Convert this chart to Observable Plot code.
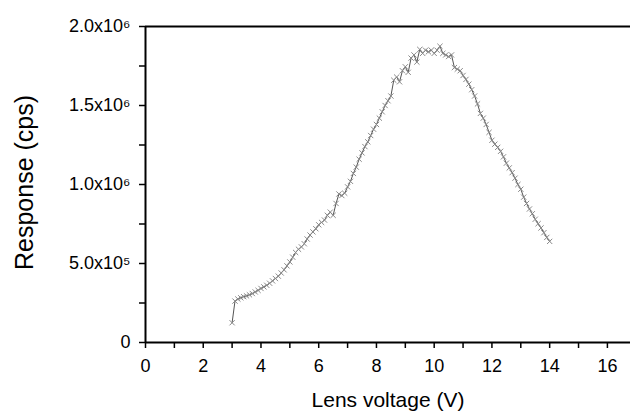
<!DOCTYPE html>
<html>
<head>
<meta charset="utf-8">
<script src="https://cdn.jsdelivr.net/npm/d3@7"></script>
<script src="https://cdn.jsdelivr.net/npm/@observablehq/plot@0.6"></script>
<style>
  html, body { margin: 0; padding: 0; background: #fff; }
</style>
</head>
<body>
<div id="chart"></div>
<script>
const voltages = [
  3.0,3.1,3.2,3.3,3.4,3.5,3.6,3.7,3.8,3.9,
  4.0,4.1,4.2,4.3,4.4,4.5,4.6,4.7,4.8,4.9,
  5.0,5.1,5.2,5.3,5.4,5.5,5.6,5.7,5.8,5.9,
  6.0,6.1,6.2,6.3,6.4,6.5,6.6,6.7,6.8,6.9,
  7.0,7.1,7.2,7.3,7.4,7.5,7.6,7.7,7.8,7.9,
  8.0,8.1,8.2,8.3,8.4,8.5,8.6,8.7,8.8,8.9,
  9.0,9.1,9.2,9.3,9.4,9.5,9.6,9.7,9.8,9.9,
  10.0,10.1,10.2,10.3,10.4,10.5,10.6,10.7,10.8,10.9,
  11.0,11.1,11.2,11.3,11.4,11.5,11.6,11.7,11.8,11.9,
  12.0,12.1,12.2,12.3,12.4,12.5,12.6,12.7,12.8,12.9,
  13.0,13.1,13.2,13.3,13.4,13.5,13.6,13.7,13.8,13.9,
  14.0
];
const responses = [
  125000,262000,275000,283000,290000,295000,302000,310000,320000,330000,
  342000,352000,362000,375000,390000,405000,420000,440000,460000,485000,
  510000,540000,570000,590000,605000,625000,655000,680000,700000,720000,
  745000,760000,775000,805000,825000,805000,880000,940000,930000,945000,
  985000,1020000,1070000,1110000,1160000,1200000,1240000,1270000,1310000,1350000,
  1380000,1420000,1460000,1500000,1530000,1560000,1660000,1680000,1650000,1720000,
  1745000,1710000,1800000,1820000,1775000,1855000,1830000,1850000,1840000,1850000,
  1830000,1850000,1875000,1830000,1820000,1810000,1820000,1740000,1730000,1720000,
  1690000,1665000,1635000,1600000,1560000,1510000,1450000,1420000,1380000,1330000,
  1280000,1255000,1235000,1210000,1175000,1135000,1105000,1075000,1040000,1000000,
  970000,920000,880000,845000,815000,780000,752000,725000,695000,665000,
  640000
];
const xMinorTicks = [0,1,2,3,4,5,6,7,8,9,10,11,12,13,14,15,16];
const xLabelTicks = [0,2,4,6,8,10,12,14,16];
const yMinorTicks = [0,250000,500000,750000,1000000,1250000,1500000,1750000,2000000];
const yLabelTicks = [0,500000,1000000,1500000,2000000];
const xLabel = "Lens voltage (V)";
const yLabel = "Response (cps)";

const data = voltages.map((v, i) => ({v, r: responses[i]}));

const sup = {"0":"⁰","1":"¹","2":"²","3":"³","4":"⁴","5":"⁵","6":"⁶","7":"⁷","8":"⁸","9":"⁹"};
function sciFormat(d) {
  if (d === 0) return "0";
  const e = Math.floor(Math.log10(d));
  const m = d / Math.pow(10, e);
  return m.toFixed(1) + "x10" + String(e).split("").map(c => sup[c]).join("");
}

const chart = Plot.plot({
  width: 630,
  height: 417,
  marginLeft: 145,
  marginRight: 0,
  marginTop: 26,
  marginBottom: 75,
  style: {fontFamily: "'Liberation Sans', Arial, sans-serif", background: "#fff", color: "#000"},
  x: {domain: [0, 16.8]},
  y: {domain: [0, 2000000]},
  marks: [
    Plot.axisX({ticks: xMinorTicks, tickSize: 6, strokeWidth: 1.5, tickFormat: () => "", label: null}),
    Plot.axisX({ticks: xLabelTicks, tickSize: 0, tickPadding: 17, tickFormat: d => String(d), fontSize: 18, label: null}),
    Plot.axisY({ticks: yMinorTicks, tickSize: 6, strokeWidth: 1.5, tickFormat: () => "", label: null}),
    Plot.axisY({ticks: yLabelTicks, tickSize: 0, tickPadding: 15, tickFormat: sciFormat, fontSize: 18, label: null}),
    Plot.ruleY([0], {stroke: "#000", strokeWidth: 2}),
    Plot.ruleY([2000000], {stroke: "#000", strokeWidth: 2}),
    Plot.ruleX([0], {stroke: "#000", strokeWidth: 2}),
    Plot.line(data, {x: "v", y: "r", stroke: "#555", strokeWidth: 1}),
    Plot.dot(data, {x: "v", y: "r", symbol: "times", r: 2.5, stroke: "#8a8a8a", strokeWidth: 1}),
    Plot.text([xLabel], {frameAnchor: "bottom", lineAnchor: "middle", dy: 58, fontSize: 21, fill: "#000"}),
    Plot.text([yLabel], {frameAnchor: "left", textAnchor: "middle", lineAnchor: "middle", rotate: -90, dx: -121, dy: -2, fontSize: 25, fill: "#000"})
  ]
});
document.getElementById("chart").appendChild(chart);
</script>
</body>
</html>
